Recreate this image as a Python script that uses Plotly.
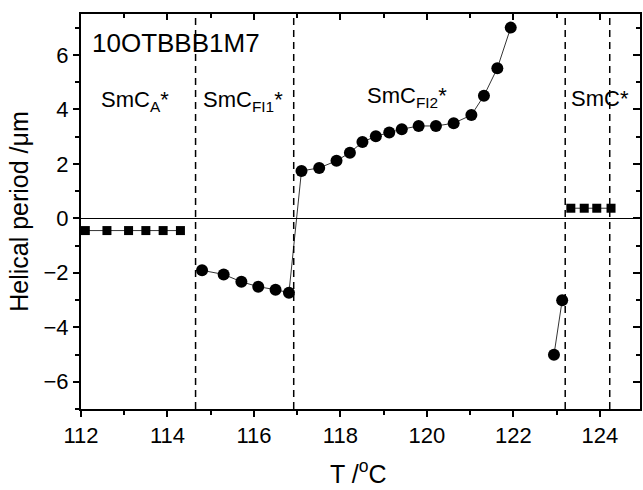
import plotly.graph_objects as go

# SmC_A* phase (squares)
smca_T = [112.1, 112.6, 113.1, 113.5, 113.9, 114.3]
smca_P = [-0.45, -0.45, -0.45, -0.45, -0.45, -0.45]

# SmC_FI1* + SmC_FI2* (circles, one connected series)
fi_T = [114.80, 115.30, 115.71, 116.10, 116.50, 116.81,
        117.10, 117.51, 117.91, 118.22, 118.51, 118.82, 119.13, 119.42,
        119.81, 120.21, 120.62, 121.03, 121.32, 121.63, 121.94]
fi_P = [-1.91, -2.06, -2.33, -2.51, -2.62, -2.73,
        1.74, 1.85, 2.11, 2.41, 2.80, 3.01, 3.15, 3.27,
        3.39, 3.39, 3.49, 3.79, 4.50, 5.51, 7.00]

# circles near 123 C
hi_T = [122.94, 123.13]
hi_P = [-5.01, -3.01]

# SmC* phase (squares)
smc_T = [123.33, 123.64, 123.93, 124.26]
smc_P = [0.37, 0.37, 0.37, 0.37]

phase_boundaries = [114.65, 116.92, 123.2, 124.23]

x_ticks = [112, 114, 116, 118, 120, 122, 124]
y_ticks = [-6, -4, -2, 0, 2, 4, 6]

FONT = "Liberation Sans, Arial, sans-serif"

fig = go.Figure()
line = dict(color="black", width=0.8)
fig.add_trace(go.Scatter(x=smca_T, y=smca_P, mode="lines+markers", line=line,
                         marker=dict(symbol="square", size=9, color="black")))
fig.add_trace(go.Scatter(x=fi_T, y=fi_P, mode="lines+markers", line=line,
                         marker=dict(symbol="circle", size=12, color="black")))
fig.add_trace(go.Scatter(x=hi_T, y=hi_P, mode="lines+markers", line=line,
                         marker=dict(symbol="circle", size=12, color="black")))
fig.add_trace(go.Scatter(x=smc_T, y=smc_P, mode="lines+markers", line=line,
                         marker=dict(symbol="square", size=9, color="black")))
# dummy trace for mirrored top/right axes
fig.add_trace(go.Scatter(x=[None], y=[None], xaxis="x2", yaxis="y2",
                         mode="markers", showlegend=False, hoverinfo="skip"))

for xb in phase_boundaries:
    fig.add_vline(x=xb, line=dict(color="black", width=1.5, dash="7px,5px"))

xr = [112, 124.93]
yr = [-7, 7.5]

fig.update_layout(
    width=643, height=490,
    margin=dict(l=81, r=3, t=14, b=81),
    paper_bgcolor="white", plot_bgcolor="white",
    showlegend=False,
    font=dict(family=FONT, color="black", size=22),
    xaxis=dict(range=xr, tickvals=x_ticks, ticks="outside", ticklen=6, tickwidth=1.5,
               automargin=False,
               showline=True, linecolor="black", linewidth=2, showgrid=False, zeroline=False,
               minor=dict(dtick=1, tick0=112, ticks="outside", ticklen=4, tickwidth=1.5, tickcolor="black", showgrid=False),
               tickfont=dict(size=22), tickcolor="black"),
    yaxis=dict(range=yr, tickvals=y_ticks, ticks="outside", ticklen=6, tickwidth=1.5,
               automargin=False,
               showline=True, linecolor="black", linewidth=2, showgrid=False,
               zeroline=True, zerolinecolor="black", zerolinewidth=1,
               minor=dict(dtick=1, tick0=-7, ticks="outside", ticklen=4, tickwidth=1.5, tickcolor="black", showgrid=False),
               tickfont=dict(size=22), tickcolor="black",
               title=dict(text="Helical period /μm", font=dict(size=25), standoff=8)),
    xaxis2=dict(range=xr, overlaying="x", side="top", tickvals=x_ticks, ticks="inside",
                automargin=False,
                ticklen=6, tickwidth=1.5, tickcolor="black", showticklabels=False,
                showline=True, linecolor="black", linewidth=2, showgrid=False, zeroline=False,
                minor=dict(dtick=1, tick0=112, ticks="inside", ticklen=4, tickwidth=1.5, tickcolor="black", showgrid=False)),
    yaxis2=dict(range=yr, overlaying="y", side="right", tickvals=y_ticks, ticks="inside",
                automargin=False,
                ticklen=7, tickwidth=1.5, tickcolor="black", showticklabels=False,
                showline=True, linecolor="black", linewidth=2, showgrid=False, zeroline=False,
                minor=dict(dtick=1, tick0=-7, ticks="inside", ticklen=4, tickwidth=1.5, tickcolor="black", showgrid=False)),
)

# x-axis title placed below the tick labels
fig.add_annotation(x=0.496, y=-0.16, xref="paper", yref="paper", showarrow=False,
                   xanchor="center", yanchor="middle", text="T /<sup>o</sup>C",
                   font=dict(family=FONT, size=25, color="black"))

ann = dict(showarrow=False, xref="x", yref="y", xanchor="left", yanchor="middle",
           font=dict(family=FONT, size=22, color="black"))
fig.add_annotation(x=112.2, y=6.45, text="10OTBBB1M7", **{**ann, "font": dict(family=FONT, size=26, color="black")})
fig.add_annotation(x=112.42, y=4.3, text="SmC<sub>A</sub>*", **ann)
fig.add_annotation(x=114.78, y=4.3, text="SmC<sub>FI1</sub>*", **ann)
fig.add_annotation(x=118.58, y=4.45, text="SmC<sub>FI2</sub>*", **ann)
fig.add_annotation(x=123.28, y=4.4, text="SmC*", **ann)

fig.write_html("out.html", config={"displayModeBar": False},
               post_script="document.body.style.margin='0';document.body.style.overflow='hidden';")
